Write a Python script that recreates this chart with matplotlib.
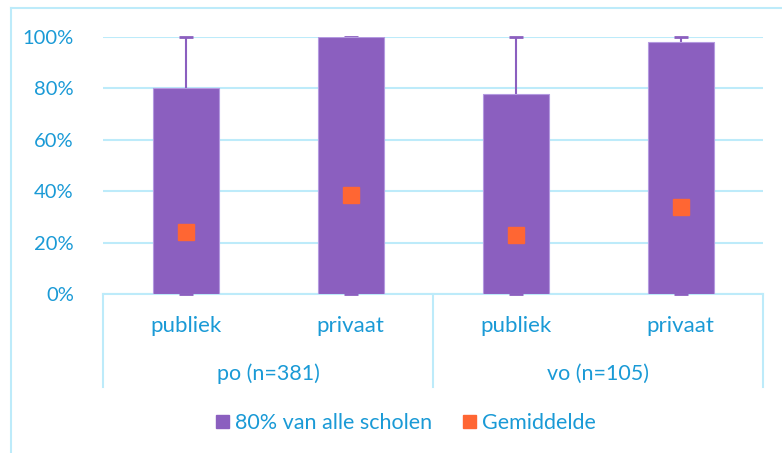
import matplotlib.pyplot as plt
from matplotlib.lines import Line2D
from matplotlib.patches import Patch
from matplotlib.ticker import PercentFormatter

# data
sub_labels = ['publiek', 'privaat', 'publiek', 'privaat']
group_labels = ['po (n=381)', 'vo (n=105)']
top80 = [0.80, 1.00, 0.78, 0.98]      # bar height: 80% van alle scholen
upper = [1.00, 1.00, 1.00, 1.00]      # whisker top
means = [0.24, 0.385, 0.23, 0.34]     # Gemiddelde

purple = '#8B5FBF'
orange = '#FF6633'
txt = '#1A9AD6'
grid = '#BDEBFA'

plt.rcParams['font.family'] = ['Lato', 'DejaVu Sans']

W, H = 782, 453
fig = plt.figure(figsize=(W / 100, H / 100), dpi=100)

# outer chart frame (left and top edges visible)
fig.add_artist(Line2D([10.5 / W, 10.5 / W], [0, 1 - 7.5 / H], color=grid, lw=1.5))
fig.add_artist(Line2D([10.5 / W, 1], [1 - 7.5 / H, 1 - 7.5 / H], color=grid, lw=1.5))

ax = fig.add_axes([103 / W, (H - 294) / H, 660 / W, 257 / H])
x = range(len(top80))

yerr_lo = top80
yerr_hi = [u - t for u, t in zip(upper, top80)]
ax.errorbar(x, top80, yerr=[yerr_lo, yerr_hi], fmt='none', ecolor=purple,
            elinewidth=1.5, capsize=5, capthick=2, zorder=2, clip_on=False)
ax.bar(x, top80, width=0.4, color=purple, edgecolor='#B49AE0', linewidth=0.8, zorder=3)
ax.plot(x, means, 's', color=orange, markersize=11, zorder=4, linestyle='none')

ax.set_xlim(-0.5, 3.5)
ax.set_ylim(0, 1)
ax.set_yticks([0, 0.2, 0.4, 0.6, 0.8, 1.0])
ax.yaxis.set_major_formatter(PercentFormatter(1.0, decimals=0))
ax.tick_params(axis='y', length=0, pad=21, labelsize=14.5, labelcolor=txt)
ax.set_xticks([])
ax.grid(axis='y', color=grid, lw=1.5, zorder=0)
ax.set_axisbelow(True)
for s in ax.spines.values():
    s.set_visible(False)

# two-level category axis
tr = ax.get_xaxis_transform()
bot = -0.362
ax.plot([-0.5, 3.5], [0, 0], color=grid, lw=1.5, transform=tr, clip_on=False, zorder=1)
for xv in [-0.5, 1.5, 3.5]:
    ax.plot([xv, xv], [0, bot], color=grid, lw=1.5, transform=tr, clip_on=False)
for i, lab in enumerate(sub_labels):
    ax.text(i, -0.125, lab, transform=tr, ha='center', va='center', fontsize=16, color=txt)
for j, lab in enumerate(group_labels):
    ax.text(0.5 + 2 * j, -0.31, lab, transform=tr, ha='center', va='center', fontsize=15.5, color=txt)

handles = [Patch(color=purple, label='80% van alle scholen'),
           Patch(color=orange, label='Gemiddelde')]
fig.legend(handles=handles, loc='center', bbox_to_anchor=(406 / W, 1 - 423 / H), ncol=2,
           frameon=False, fontsize=15.5, labelcolor=txt, handlelength=0.6, handleheight=0.6,
           handletextpad=0.3, columnspacing=1.4)

fig.savefig('out.png', dpi=100)
